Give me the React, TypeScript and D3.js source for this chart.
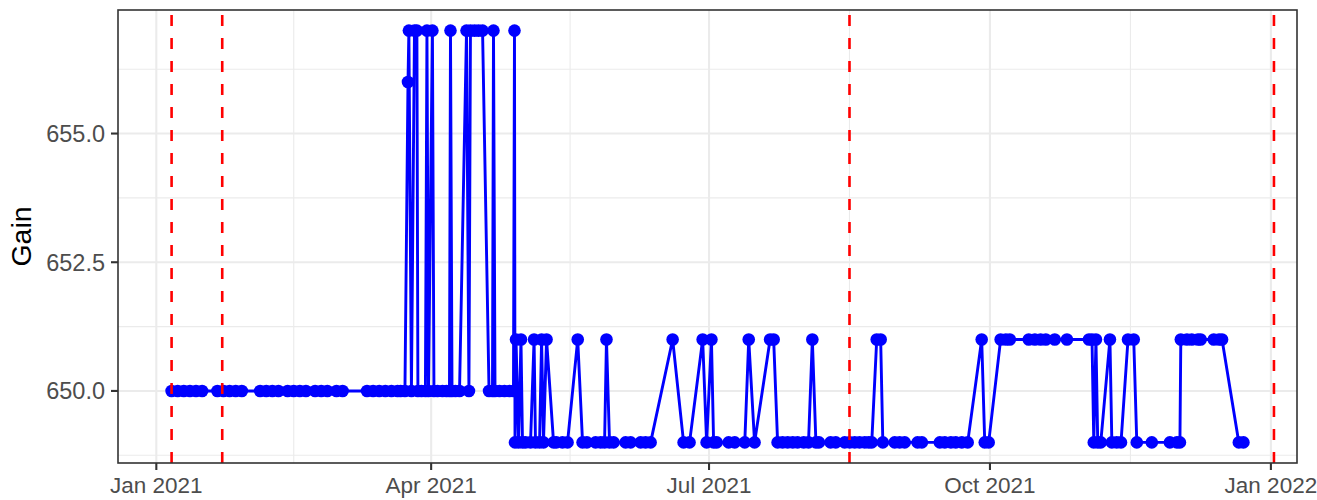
import React from 'react';
import * as d3 from 'd3';

// observation dates (UTC, hour given where several readings fall on one day)
const dates = [
  // Jan - Mar
  '2021-01-06', '2021-01-08', '2021-01-10', '2021-01-12', '2021-01-14', '2021-01-16',
  '2021-01-21', '2021-01-23', '2021-01-25', '2021-01-27', '2021-01-29',
  '2021-02-04', '2021-02-06', '2021-02-08', '2021-02-10', '2021-02-13', '2021-02-15', '2021-02-17',
  '2021-02-19', '2021-02-22', '2021-02-24', '2021-02-26', '2021-03-01', '2021-03-03',
  '2021-03-11', '2021-03-13', '2021-03-15', '2021-03-17', '2021-03-19', '2021-03-21', '2021-03-22',
  // late Mar - Apr
  '2021-03-23T10', '2021-03-24T10', '2021-03-24T17', '2021-03-25T13', '2021-03-26T13',
  '2021-03-27T08', '2021-03-27T16', '2021-03-28T20', '2021-03-30T03', '2021-03-30T15',
  '2021-03-31T03', '2021-04-01T10', '2021-04-01T22', '2021-04-03T02', '2021-04-04T17',
  '2021-04-06', '2021-04-07', '2021-04-07T08', '2021-04-07T20', '2021-04-08T23',
  '2021-04-10T07', '2021-04-12T14', '2021-04-13T09', '2021-04-13T21', '2021-04-15T05',
  '2021-04-16T12', '2021-04-17T20', '2021-04-19T23', '2021-04-21T02', '2021-04-21T10',
  '2021-04-21T22', '2021-04-23T09', '2021-04-25', '2021-04-26T16', '2021-04-27T23',
  // late Apr - Jun
  '2021-04-28T07', '2021-04-28T11', '2021-04-28T19', '2021-04-29T15', '2021-04-30T10',
  '2021-04-30T22', '2021-05-01T22', '2021-05-03T13', '2021-05-04T17', '2021-05-05T04',
  '2021-05-06T12', '2021-05-07T04', '2021-05-07T19', '2021-05-08T19', '2021-05-11T02',
  '2021-05-12', '2021-05-14', '2021-05-15T16', '2021-05-19', '2021-05-20T14',
  '2021-05-22', '2021-05-24T20', '2021-05-26T12', '2021-05-27T19', '2021-05-28T10',
  '2021-05-29T10', '2021-05-30T18', '2021-06-03T16', '2021-06-05T08', '2021-06-08T14',
  '2021-06-10T05', '2021-06-11T21',
  // Jun - Aug
  '2021-06-19T02', '2021-06-22T16', '2021-06-24T15', '2021-06-28T22', '2021-06-30T05',
  '2021-07-01T19', '2021-07-02T12', '2021-07-03T12', '2021-07-07T10', '2021-07-09T10',
  '2021-07-12T17', '2021-07-14', '2021-07-15T22', '2021-07-21', '2021-07-22T04',
  '2021-07-23T11', '2021-07-25T02', '2021-07-26T18', '2021-07-28T10', '2021-07-30',
  '2021-08-01', '2021-08-02T14', '2021-08-03T20', '2021-08-05', '2021-08-06',
  '2021-08-09T19', '2021-08-11T12', '2021-08-14T10', '2021-08-16T02', '2021-08-17T17',
  '2021-08-19T07', '2021-08-21', '2021-08-22T07', '2021-08-23T07',
  // Aug - Dec
  '2021-08-24T22', '2021-08-26T05', '2021-08-26T22', '2021-08-30T19', '2021-09-01T10',
  '2021-09-03T02', '2021-09-07T07', '2021-09-08T17', '2021-09-14T14', '2021-09-16T05',
  '2021-09-18T05', '2021-09-19T19', '2021-09-21T19', '2021-09-23T17', '2021-09-28T07',
  '2021-09-29T07', '2021-09-30T14', '2021-10-04T12', '2021-10-06T05', '2021-10-07T12',
  '2021-10-13T17', '2021-10-15T17', '2021-10-17T14', '2021-10-19T07', '2021-10-22T05',
  '2021-10-26T05', '2021-11-02T10', '2021-11-03T10', '2021-11-04', '2021-11-04T17',
  '2021-11-05T07', '2021-11-06T07', '2021-11-09T07', '2021-11-09T22', '2021-11-11T12',
  '2021-11-12T22', '2021-11-15T05', '2021-11-17T02', '2021-11-18T02', '2021-11-23',
  '2021-11-28T22', '2021-12-01T05', '2021-12-02T05', '2021-12-02T12', '2021-12-04T12',
  '2021-12-06T02', '2021-12-08T02', '2021-12-09', '2021-12-13T07', '2021-12-15',
  '2021-12-16', '2021-12-21T12', '2021-12-23',
];

const gain = [
  // Jan - Mar
  650, 650, 650, 650, 650, 650,
  650, 650, 650, 650, 650,
  650, 650, 650, 650, 650, 650, 650,
  650, 650, 650, 650, 650, 650,
  650, 650, 650, 650, 650, 650, 650,
  // late Mar - Apr
  650, 656, 657, 650, 657,
  657, 650, 650, 650, 657,
  650, 657, 650, 650, 650,
  650, 650, 657, 650, 650,
  650, 657, 650, 657, 657,
  657, 657, 650, 650, 657,
  650, 650, 650, 650, 650,
  // late Apr - Jun
  657, 649, 651, 649, 651,
  649, 649, 649, 651, 649,
  649, 651, 649, 651, 649,
  649, 649, 649, 651, 649,
  649, 649, 649, 649, 651,
  649, 649, 649, 649, 649,
  649, 649,
  // Jun - Aug
  651, 649, 649, 651, 649,
  651, 649, 649, 649, 649,
  649, 651, 649, 651, 651,
  649, 649, 649, 649, 649,
  649, 649, 651, 649, 649,
  649, 649, 649, 649, 649,
  649, 649, 649, 649,
  // Aug - Dec
  651, 651, 649, 649, 649,
  649, 649, 649, 649, 649,
  649, 649, 649, 649, 651,
  649, 649, 651, 651, 651,
  651, 651, 651, 651, 651,
  651, 651, 651, 649, 651,
  649, 649, 651, 649, 649,
  649, 651, 651, 649, 649,
  649, 649, 649, 651, 651,
  651, 651, 651, 651, 651,
  651, 649, 649,
];

const vlineDates = ['2021-01-06', '2021-01-22T14', '2021-08-16', '2022-01-02'];

const yTicks = [650, 652.5, 655];
const yMinor = [648.75, 651.25, 653.75, 656.25];

const parseDate = (s: string) => new Date(s.length === 10 ? s + 'T00:00Z' : s + ':00Z');

const App: React.FC = () => {
  const width = 1317;
  const height = 500;
  const margin = { left: 118, right: 20, top: 10, bottom: 37 };
  const x0 = margin.left, x1 = width - margin.right;
  const y0 = height - margin.bottom, y1 = margin.top;

  const data = dates.map((d, i) => ({ date: parseDate(d), gain: gain[i] }));

  const [dMin, dMax] = d3.extent(data, d => +d.date) as [number, number];
  const pad = (dMax - dMin) * 0.05;
  const x = d3.scaleUtc().domain([new Date(dMin - pad), new Date(dMax + pad)]).range([x0, x1]);

  const [gMin, gMax] = d3.extent(data, d => d.gain) as [number, number];
  const gPad = (gMax - gMin) * 0.05;
  const y = d3.scaleLinear().domain([gMin - gPad, gMax + gPad]).range([y0, y1]);

  const xTicks = x.ticks(d3.utcMonth.every(3)!);
  const xMinor = xTicks.slice(1).map((t, i) => new Date((+t + +xTicks[i]) / 2));
  const fmtX = d3.utcFormat('%b %Y');
  const fmtY = d3.format('.1f');

  const linePath = d3.line<{ date: Date; gain: number }>()
    .x(d => x(d.date))
    .y(d => y(d.gain))(data);

  const font = '"Liberation Sans", Arial, sans-serif';
  const grid = '#ebebeb';

  return (
    <svg width={width} height={height} style={{ position: 'absolute', left: 0, top: 0 }} fontFamily={font}>
      <rect x={0} y={0} width={width} height={height} fill="white" />
      {/* grid */}
      {yMinor.map(v => (
        <line key={'ym' + v} x1={x0} x2={x1} y1={y(v)} y2={y(v)} stroke={grid} strokeWidth={1.1} />
      ))}
      {xMinor.map(t => (
        <line key={'xm' + +t} x1={x(t)} x2={x(t)} y1={y0} y2={y1} stroke={grid} strokeWidth={1.1} />
      ))}
      {yTicks.map(v => (
        <line key={'yg' + v} x1={x0} x2={x1} y1={y(v)} y2={y(v)} stroke={grid} strokeWidth={2.1} />
      ))}
      {xTicks.map(t => (
        <line key={'xg' + +t} x1={x(t)} x2={x(t)} y1={y0} y2={y1} stroke={grid} strokeWidth={2.1} />
      ))}
      {/* series */}
      <path d={linePath ?? ''} fill="none" stroke="#0000ff" strokeWidth={2.9} strokeLinejoin="round" />
      {data.map((d, i) => (
        <circle key={i} cx={x(d.date)} cy={y(d.gain)} r={6.3} fill="#0000ff" />
      ))}
      {/* reference lines */}
      {vlineDates.map(s => (
        <line key={s} x1={x(parseDate(s))} x2={x(parseDate(s))} y1={y0} y2={y1}
          stroke="#ff0000" strokeWidth={2.6} strokeDasharray="11,12" />
      ))}
      {/* panel border */}
      <rect x={x0} y={y1} width={x1 - x0} height={y0 - y1} fill="none" stroke="#333333" strokeWidth={1.6} />
      {/* y axis */}
      {yTicks.map(v => (
        <g key={'yt' + v}>
          <line x1={x0 - 7} x2={x0} y1={y(v)} y2={y(v)} stroke="#333333" strokeWidth={2.1} />
          <text x={x0 - 13} y={y(v)} dy="0.36em" textAnchor="end" fontSize={23.5} fill="#4d4d4d">{fmtY(v)}</text>
        </g>
      ))}
      {/* x axis */}
      {xTicks.map(t => (
        <g key={'xt' + +t}>
          <line x1={x(t)} x2={x(t)} y1={y0} y2={y0 + 7} stroke="#333333" strokeWidth={2.1} />
          <text x={x(t)} y={y0 + 30} textAnchor="middle" fontSize={22.5} fill="#4d4d4d">{fmtX(t)}</text>
        </g>
      ))}
      <text transform={`translate(31, ${(y0 + y1) / 2}) rotate(-90)`} textAnchor="middle" fontSize={28.5} fill="black">Gain</text>
    </svg>
  );
};

export default App;
